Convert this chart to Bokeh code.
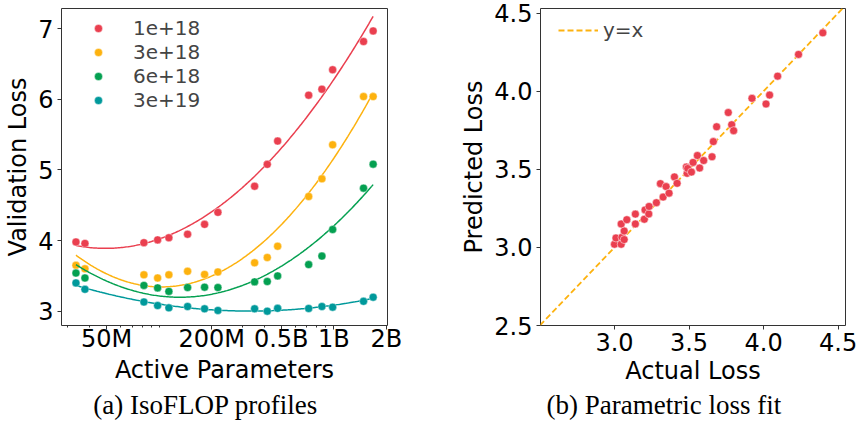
import numpy as np
from bokeh.plotting import figure
from bokeh.layouts import row
from bokeh.models import (FixedTicker, Legend, LegendItem, Title, PrintfTickFormatter,
                          BasicTickFormatter)
from bokeh.embed import file_html
from bokeh.resources import INLINE

# ---------------- data: (a) IsoFLOP profiles ----------------
active_params = [33.4e6, 37.6e6, 81.8e6, 98e6, 113.7e6, 145.5e6, 182e6, 217e6,
                 352e6, 416e6, 477e6, 718e6, 855e6, 985e6, 1.48e9, 1.68e9]
budgets = ["1e+18", "3e+18", "6e+18", "3e+19"]
loss_1e18 = [3.98, 3.96, 3.97, 4.01, 4.04, 4.09, 4.23, 4.40,
             4.77, 5.08, 5.41, 6.06, 6.145, 6.42, 6.82, 6.97]
loss_3e18 = [3.65, 3.60, 3.515, 3.47, 3.515, 3.565, 3.52, 3.555,
             3.685, 3.76, 3.92, 4.625, 4.875, 5.357, 6.04, 6.04]
loss_6e18 = [3.54, 3.47, 3.365, 3.33, 3.28, 3.335, 3.34, 3.335,
             3.415, 3.42, 3.50, 3.66, 3.78, 4.157, 4.743, 5.083]
loss_3e19 = [3.40, 3.31, 3.13, 3.08, 3.047, 3.066, 3.033, 3.01,
             3.033, 3.0, 3.04, 3.038, 3.066, 3.057, 3.14, 3.198]
colors = ["#ea3f4f", "#fdb20f", "#04a051", "#00999b"]

x_major = [50e6, 200e6, 500e6, 1e9, 2e9]
x_major_labels = ["50M", "200M", "0.5B", "1B", "2B"]
x_minor = [30e6, 40e6, 60e6, 70e6, 80e6, 90e6, 100e6, 300e6, 400e6,
           600e6, 700e6, 800e6, 900e6]
y_ticks_a = [3, 4, 5, 6, 7]

# ---------------- data: (b) Parametric loss fit ----------------
actual_loss = [3.00, 3.01, 3.045, 3.05, 3.065, 3.065, 3.045, 3.083, 3.14, 3.14,
               3.20, 3.205, 3.23, 3.232, 3.281, 3.308, 3.326, 3.346, 3.366, 3.402,
               3.42, 3.482, 3.487, 3.491, 3.516, 3.527, 3.556, 3.571, 3.598, 3.654,
               3.663, 3.685, 3.763, 3.786, 3.799, 3.922, 4.016, 4.04, 4.094, 4.234,
               4.397]
predicted_loss = [3.02, 3.06, 3.02, 3.065, 3.05, 3.105, 3.15, 3.177, 3.15, 3.213,
                  3.18, 3.24, 3.214, 3.262, 3.286, 3.408, 3.322, 3.389, 3.347, 3.451,
                  3.41, 3.514, 3.474, 3.505, 3.482, 3.544, 3.588, 3.508, 3.556, 3.58,
                  3.677, 3.772, 3.863, 3.785, 3.747, 3.954, 3.918, 3.975, 4.096, 4.235,
                  4.373]
ticks_b = [2.5, 3.0, 3.5, 4.0, 4.5]
ident = [2.5, 4.55]

FONT = "DejaVu Sans"
DARK = "#333333"


def style_axes(p):
    p.outline_line_color = DARK
    p.outline_line_width = 1
    p.xgrid.visible = False
    p.ygrid.visible = False
    for ax in (p.xaxis[0], p.yaxis[0]):
        ax.axis_line_color = None
        ax.major_tick_in = 0
        ax.major_tick_out = 4
        ax.minor_tick_in = 0
        ax.minor_tick_out = 2
        ax.major_tick_line_color = DARK
        ax.minor_tick_line_color = DARK
        ax.major_label_text_font = FONT
        ax.major_label_text_font_size = "24px"
        ax.major_label_text_color = "black"
        ax.axis_label_text_font = FONT
        ax.axis_label_text_font_size = "24px"
        ax.axis_label_text_font_style = "normal"
        ax.axis_label_text_color = "black"
    p.xaxis.major_label_standoff = 3
    p.xaxis.axis_label_standoff = 3
    p.yaxis.major_label_standoff = 4
    p.yaxis.axis_label_standoff = 3


def caption(text, offset, standoff):
    return Title(text=text, align="left", offset=offset, text_color="black",
                 text_font="Liberation Serif", text_font_size="27px",
                 text_font_style="normal", standoff=standoff)


H = 432
TOP = 8
BOTTOM = H - 325

# ---------------- panel (a) ----------------
pa = figure(x_axis_type="log", x_range=(27.6e6, 2.03e9), y_range=(2.797, 7.288),
            width=420, height=H, output_backend="svg", toolbar_location=None,
            min_border_left=61, min_border_right=33,
            min_border_top=TOP, min_border_bottom=BOTTOM)
style_axes(pa)
pa.xaxis.ticker = FixedTicker(ticks=x_major, minor_ticks=x_minor)
pa.xaxis.formatter = BasicTickFormatter()
pa.xaxis.major_label_overrides = {t: l for t, l in zip(x_major, x_major_labels)}
pa.xaxis.major_label_standoff = -5
pa.xaxis.axis_label_standoff = 0
pa.yaxis.ticker = FixedTicker(ticks=y_ticks_a, minor_ticks=[])
pa.xaxis.axis_label = "Active Parameters"
pa.yaxis.axis_label = "Validation Loss"

N = np.array(active_params)
items = []
for name, losses, c in zip(budgets, [loss_1e18, loss_3e18, loss_6e18, loss_3e19], colors):
    L = np.array(losses)
    coef = np.polyfit(np.log10(N), L, 2)
    xs = np.logspace(np.log10(N.min()), np.log10(N.max()), 200)
    pa.line(xs, np.polyval(coef, np.log10(xs)), line_color=c, line_width=1.5)
    r = pa.scatter(N, L, size=8, fill_color=c, line_color="white", line_width=0.4)
    items.append(LegendItem(label=name, renderers=[r]))

leg_a = Legend(items=items, location=(27, 213), padding=0, margin=0, spacing=-2,
               glyph_width=20, glyph_height=20, label_standoff=25,
               label_text_font=FONT, label_text_font_size="20px",
               border_line_color=None, background_fill_alpha=0)
pa.add_layout(leg_a)
pa.add_layout(caption("(a)  IsoFLOP profiles", 31.7, 3), "below")

# ---------------- panel (b) ----------------
pb = figure(x_range=(2.504, 4.549), y_range=(2.5, 4.529),
            width=439, height=H, output_backend="svg", toolbar_location=None,
            min_border_left=120, min_border_right=14,
            min_border_top=TOP, min_border_bottom=BOTTOM)
style_axes(pb)
pb.xaxis.ticker = FixedTicker(ticks=ticks_b[1:], minor_ticks=[])
pb.yaxis.ticker = FixedTicker(ticks=ticks_b, minor_ticks=[])
pb.xaxis.formatter = PrintfTickFormatter(format="%.1f")
pb.yaxis.formatter = PrintfTickFormatter(format="%.1f")
pb.xaxis.axis_label = "Actual Loss"
pb.yaxis.axis_label = "Predicted Loss"

rl = pb.line(ident, ident, line_color="#fdb20f", line_width=1.8, line_dash="6 3")
pb.scatter(actual_loss, predicted_loss, size=8, fill_color="#ea3f4f",
           line_color="white", line_width=0.5)
leg_b = Legend(items=[LegendItem(label="y=x", renderers=[rl])], location=(18, 283),
               padding=0, margin=0, glyph_width=40, glyph_height=20, label_standoff=5,
               label_text_font=FONT, label_text_font_size="20px",
               border_line_color=None, background_fill_alpha=0)
pb.add_layout(leg_b)
pb.add_layout(caption("(b)  Parametric loss fit", 6, 0), "below")

layout = row(pa, pb)
open("out.html", "w").write(file_html(layout, INLINE))
